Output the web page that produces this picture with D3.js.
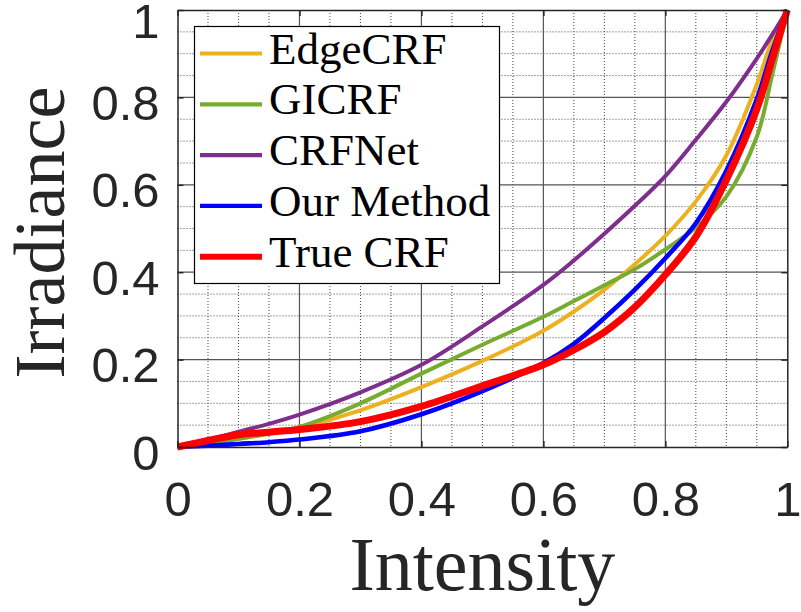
<!DOCTYPE html>
<html>
<head>
<meta charset="utf-8">
<script src="https://cdn.jsdelivr.net/npm/d3@7"></script>
<style>
  html, body { margin: 0; padding: 0; background: #fff; }
  svg { display: block; }
</style>
</head>
<body>
<div id="root"></div>
<script>
// values
const intensity = [0, 0.05, 0.1, 0.15, 0.2, 0.3, 0.4, 0.5, 0.6, 0.65, 0.7, 0.75, 0.8, 0.85, 0.9, 0.95, 0.975, 1];
const edgeCRF   = [0, 0.009, 0.019, 0.03, 0.044, 0.084, 0.137, 0.197, 0.266, 0.31, 0.36, 0.418, 0.483, 0.562, 0.667, 0.83, 0.93, 1];
const giCRF     = [0, 0.009, 0.019, 0.031, 0.046, 0.1, 0.168, 0.234, 0.298, 0.334, 0.37, 0.407, 0.452, 0.502, 0.573, 0.71, 0.85, 1];
const crfNet    = [0, 0.016, 0.035, 0.053, 0.074, 0.125, 0.188, 0.276, 0.371, 0.427, 0.488, 0.552, 0.62, 0.703, 0.79, 0.889, 0.943, 1];
const ourMethod = [0, 0.003, 0.007, 0.011, 0.017, 0.036, 0.075, 0.128, 0.192, 0.236, 0.295, 0.36, 0.432, 0.512, 0.632, 0.796, 0.905, 1];
const trueCRF   = [0, 0.015, 0.028, 0.034, 0.04, 0.058, 0.093, 0.14, 0.188, 0.222, 0.263, 0.32, 0.394, 0.481, 0.611, 0.773, 0.886, 1];

const seriesNames = ['EdgeCRF', 'GICRF', 'CRFNet', 'Our Method', 'True CRF'];
const seriesValues = [edgeCRF, giCRF, crfNet, ourMethod, trueCRF];
const seriesColors = ['#EDB120', '#77AC30', '#7E2F8E', '#0000FF', '#FF0000'];
const seriesWidths = [4, 4, 4, 4.6, 7];
const tickValues = [0, 0.2, 0.4, 0.6, 0.8, 1];
const tickLabels = ['0', '0.2', '0.4', '0.6', '0.8', '1'];

const W = 801, H = 612;
const plotLeft = 177.5, plotRight = 787.3, plotTop = 10, plotBottom = 447;

const svg = d3.select('#root').append('svg')
  .attr('width', W).attr('height', H)
  .style('background', '#fff');

const x = d3.scaleLinear().domain([0, 1]).range([plotLeft, plotRight]);
const y = d3.scaleLinear().domain([0, 1]).range([plotBottom, plotTop]);

// minor dotted grid
const minor = d3.range(0.05, 1, 0.05).filter(v => Math.abs(v * 5 - Math.round(v * 5)) > 1e-6);
const grid = svg.append('g');
grid.selectAll('.mx').data(minor).enter().append('line')
  .attr('x1', d => x(d)).attr('x2', d => x(d))
  .attr('y1', plotTop).attr('y2', plotBottom)
  .attr('stroke', '#444').attr('stroke-width', 1)
  .attr('stroke-dasharray', '1,2');
grid.selectAll('.my').data(minor).enter().append('line')
  .attr('y1', d => y(d)).attr('y2', d => y(d))
  .attr('x1', plotLeft).attr('x2', plotRight)
  .attr('stroke', '#444').attr('stroke-width', 1)
  .attr('stroke-dasharray', '1,2');

// major grid
const major = tickValues.slice(1, -1);
grid.selectAll('.gx').data(major).enter().append('line')
  .attr('x1', d => x(d)).attr('x2', d => x(d))
  .attr('y1', plotTop).attr('y2', plotBottom)
  .attr('stroke', '#555').attr('stroke-width', 1.2);
grid.selectAll('.gy').data(major).enter().append('line')
  .attr('y1', d => y(d)).attr('y2', d => y(d))
  .attr('x1', plotLeft).attr('x2', plotRight)
  .attr('stroke', '#555').attr('stroke-width', 1.2);

// curves
const line = d3.line()
  .x((d, i) => x(intensity[i]))
  .y(d => y(d))
  .curve(d3.curveCatmullRom.alpha(0.5));

svg.append('g').selectAll('path').data(seriesValues).enter().append('path')
  .attr('d', d => line(d))
  .attr('fill', 'none')
  .attr('stroke', (d, i) => seriesColors[i])
  .attr('stroke-width', (d, i) => seriesWidths[i])
  .attr('stroke-linejoin', 'round');

// axes: box with inward ticks on all sides
const tickLen = 6;
const fmt = (d, i) => tickLabels[i];
const axes = [
  d3.axisBottom(x).tickValues(tickValues).tickFormat(fmt).tickSizeInner(-tickLen).tickSizeOuter(0),
  d3.axisTop(x).tickValues(tickValues).tickFormat('').tickSizeInner(-tickLen).tickSizeOuter(0),
  d3.axisLeft(y).tickValues(tickValues).tickFormat(fmt).tickSizeInner(-tickLen).tickSizeOuter(0),
  d3.axisRight(y).tickValues(tickValues).tickFormat('').tickSizeInner(-tickLen).tickSizeOuter(0)
];
const shifts = [`translate(0,${plotBottom})`, `translate(0,${plotTop})`, `translate(${plotLeft},0)`, `translate(${plotRight},0)`];
axes.forEach((a, k) => {
  const g = svg.append('g').attr('transform', shifts[k]).call(a);
  g.select('.domain').attr('stroke', '#262626').attr('stroke-width', 1.5);
  g.selectAll('.tick line').attr('stroke', '#262626').attr('stroke-width', 1.5);
  g.selectAll('.tick text')
    .attr('fill', '#262626')
    .style('font-family', '"Liberation Sans", Arial, sans-serif')
    .style('font-size', '49px');
  if (k === 0) g.selectAll('.tick text').attr('y', 0).attr('dy', '69px');
  if (k === 2) {
    // keep the top label inside the picture
    g.selectAll('.tick text').attr('x', -18).attr('dy', d => (d === 1 ? '0.56em' : '0.45em'));
  }
});

// axis titles
svg.append('text')
  .attr('x', x(0.5)).attr('y', 590)
  .attr('text-anchor', 'middle')
  .style('font-family', '"Liberation Serif", "Times New Roman", serif')
  .style('font-size', '76px')
  .attr('fill', '#262626')
  .text('Intensity');

svg.append('text')
  .attr('transform', `translate(64,${(plotTop + plotBottom) / 2 + 4}) rotate(-90)`)
  .attr('text-anchor', 'middle')
  .style('font-family', '"Liberation Serif", "Times New Roman", serif')
  .style('font-size', '72px')
  .attr('fill', '#262626')
  .text('Irradiance');

// legend
const lg = svg.append('g');
lg.append('rect')
  .attr('x', 194.5).attr('y', 26.5).attr('width', 305).attr('height', 257)
  .attr('fill', '#fff').attr('stroke', '#000').attr('stroke-width', 1.2);
const rowY = i => 53.5 + i * 50.8;
const rows = lg.selectAll('.row').data(seriesNames).enter().append('g');
rows.append('line')
  .attr('x1', 200).attr('x2', 262)
  .attr('y1', (d, i) => rowY(i)).attr('y2', (d, i) => rowY(i))
  .attr('stroke', (d, i) => seriesColors[i])
  .attr('stroke-width', (d, i) => (i === 4 ? 6 : 4.2));
rows.append('text')
  .attr('x', 269).attr('y', (d, i) => rowY(i) + 10)
  .style('font-family', '"Liberation Serif", "Times New Roman", serif')
  .style('font-size', '45px')
  .attr('fill', '#000')
  .text(d => d);
</script>
</body>
</html>
